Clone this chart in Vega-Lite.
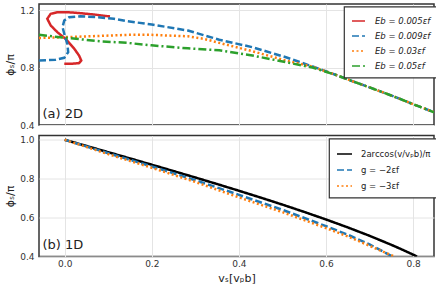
{
  "$schema": "https://vega.github.io/schema/vega-lite/v6.json",
  "padding": {"left": 3, "top": 3, "right": 3, "bottom": 5},
  "spacing": 10.5,
  "bounds": "flush",
  "config": {
    "font": "DejaVu Sans",
    "view": {"stroke": "#333", "strokeWidth": 1.5},
    "axis": {"labelFont": "DejaVu Sans", "labelFontSize": 9, "labelColor": "#333", "gridColor": "#e4e4e4", "gridWidth": 1, "ticks": false, "domain": false, "labelPadding": 5, "titleFont": "DejaVu Sans", "titleFontSize": 11, "titleFontWeight": "normal", "titleColor": "#222"},
    "legend": {"labelFont": "DejaVu Sans", "strokeWidth": 1.2}
  },
  "resolve": {"scale": {"color": "independent", "strokeDash": "independent"}},
  "vconcat": [
    {
      "width": 395,
      "height": 121,
      "layer": [
        {
          "data": {"values": [
            {"s": "Eb = 0.005εf", "i": 1, "v": 0.104, "p": 1.156},
            {"s": "Eb = 0.005εf", "i": 2, "v": 0.067, "p": 1.170},
            {"s": "Eb = 0.005εf", "i": 3, "v": 0.029, "p": 1.181},
            {"s": "Eb = 0.005εf", "i": 4, "v": 0.005, "p": 1.186},
            {"s": "Eb = 0.005εf", "i": 5, "v": -0.017, "p": 1.185},
            {"s": "Eb = 0.005εf", "i": 6, "v": -0.032, "p": 1.175},
            {"s": "Eb = 0.005εf", "i": 7, "v": -0.040, "p": 1.140},
            {"s": "Eb = 0.005εf", "i": 8, "v": -0.032, "p": 1.093},
            {"s": "Eb = 0.005εf", "i": 9, "v": -0.017, "p": 1.047},
            {"s": "Eb = 0.005εf", "i": 10, "v": 0.002, "p": 1.000},
            {"s": "Eb = 0.005εf", "i": 11, "v": 0.022, "p": 0.931},
            {"s": "Eb = 0.005εf", "i": 12, "v": 0.033, "p": 0.884},
            {"s": "Eb = 0.005εf", "i": 13, "v": 0.038, "p": 0.849},
            {"s": "Eb = 0.005εf", "i": 14, "v": 0.033, "p": 0.831},
            {"s": "Eb = 0.005εf", "i": 15, "v": 0.014, "p": 0.826},
            {"s": "Eb = 0.005εf", "i": 16, "v": -0.001, "p": 0.826},

            {"s": "Eb = 0.009εf", "i": 1, "v": -0.059, "p": 0.849},
            {"s": "Eb = 0.009εf", "i": 2, "v": -0.021, "p": 0.854},
            {"s": "Eb = 0.009εf", "i": 3, "v": -0.001, "p": 0.868},
            {"s": "Eb = 0.009εf", "i": 4, "v": 0.008, "p": 0.907},
            {"s": "Eb = 0.009εf", "i": 5, "v": 0.006, "p": 0.966},
            {"s": "Eb = 0.009εf", "i": 6, "v": 0.000, "p": 1.024},
            {"s": "Eb = 0.009εf", "i": 7, "v": -0.005, "p": 1.082},
            {"s": "Eb = 0.009εf", "i": 8, "v": -0.001, "p": 1.128},
            {"s": "Eb = 0.009εf", "i": 9, "v": 0.010, "p": 1.151},
            {"s": "Eb = 0.009εf", "i": 10, "v": 0.037, "p": 1.158},
            {"s": "Eb = 0.009εf", "i": 11, "v": 0.075, "p": 1.151},
            {"s": "Eb = 0.009εf", "i": 12, "v": 0.113, "p": 1.140},
            {"s": "Eb = 0.009εf", "i": 13, "v": 0.144, "p": 1.123},
            {"s": "Eb = 0.009εf", "i": 14, "v": 0.200, "p": 1.100},
            {"s": "Eb = 0.009εf", "i": 15, "v": 0.283, "p": 1.058},
            {"s": "Eb = 0.009εf", "i": 16, "v": 0.355, "p": 0.994},
            {"s": "Eb = 0.009εf", "i": 17, "v": 0.431, "p": 0.942},
            {"s": "Eb = 0.009εf", "i": 18, "v": 0.508, "p": 0.872},
            {"s": "Eb = 0.009εf", "i": 19, "v": 0.584, "p": 0.792},
            {"s": "Eb = 0.009εf", "i": 20, "v": 0.620, "p": 0.752},
            {"s": "Eb = 0.009εf", "i": 21, "v": 0.661, "p": 0.705},
            {"s": "Eb = 0.009εf", "i": 22, "v": 0.700, "p": 0.662},
            {"s": "Eb = 0.009εf", "i": 23, "v": 0.737, "p": 0.620},
            {"s": "Eb = 0.009εf", "i": 24, "v": 0.770, "p": 0.582},
            {"s": "Eb = 0.009εf", "i": 25, "v": 0.800, "p": 0.545},
            {"s": "Eb = 0.009εf", "i": 26, "v": 0.825, "p": 0.516},
            {"s": "Eb = 0.009εf", "i": 27, "v": 0.848, "p": 0.489},

            {"s": "Eb = 0.03εf", "i": 1, "v": -0.059, "p": 1.006},
            {"s": "Eb = 0.03εf", "i": 2, "v": 0.000, "p": 1.012},
            {"s": "Eb = 0.03εf", "i": 3, "v": 0.084, "p": 1.021},
            {"s": "Eb = 0.03εf", "i": 4, "v": 0.144, "p": 1.028},
            {"s": "Eb = 0.03εf", "i": 5, "v": 0.199, "p": 1.028},
            {"s": "Eb = 0.03εf", "i": 6, "v": 0.283, "p": 1.018},
            {"s": "Eb = 0.03εf", "i": 7, "v": 0.320, "p": 1.000},
            {"s": "Eb = 0.03εf", "i": 8, "v": 0.355, "p": 0.972},
            {"s": "Eb = 0.03εf", "i": 9, "v": 0.431, "p": 0.914},
            {"s": "Eb = 0.03εf", "i": 10, "v": 0.508, "p": 0.849},
            {"s": "Eb = 0.03εf", "i": 11, "v": 0.569, "p": 0.806},
            {"s": "Eb = 0.03εf", "i": 12, "v": 0.620, "p": 0.752},
            {"s": "Eb = 0.03εf", "i": 13, "v": 0.661, "p": 0.705},
            {"s": "Eb = 0.03εf", "i": 14, "v": 0.700, "p": 0.662},
            {"s": "Eb = 0.03εf", "i": 15, "v": 0.737, "p": 0.620},
            {"s": "Eb = 0.03εf", "i": 16, "v": 0.770, "p": 0.582},
            {"s": "Eb = 0.03εf", "i": 17, "v": 0.800, "p": 0.545},
            {"s": "Eb = 0.03εf", "i": 18, "v": 0.825, "p": 0.516},
            {"s": "Eb = 0.03εf", "i": 19, "v": 0.848, "p": 0.489},

            {"s": "Eb = 0.05εf", "i": 1, "v": -0.059, "p": 1.028},
            {"s": "Eb = 0.05εf", "i": 2, "v": 0.000, "p": 1.008},
            {"s": "Eb = 0.05εf", "i": 3, "v": 0.084, "p": 0.983},
            {"s": "Eb = 0.05εf", "i": 4, "v": 0.144, "p": 0.972},
            {"s": "Eb = 0.05εf", "i": 5, "v": 0.199, "p": 0.955},
            {"s": "Eb = 0.05εf", "i": 6, "v": 0.283, "p": 0.934},
            {"s": "Eb = 0.05εf", "i": 7, "v": 0.355, "p": 0.920},
            {"s": "Eb = 0.05εf", "i": 8, "v": 0.431, "p": 0.884},
            {"s": "Eb = 0.05εf", "i": 9, "v": 0.508, "p": 0.838},
            {"s": "Eb = 0.05εf", "i": 10, "v": 0.569, "p": 0.800},
            {"s": "Eb = 0.05εf", "i": 11, "v": 0.620, "p": 0.752},
            {"s": "Eb = 0.05εf", "i": 12, "v": 0.661, "p": 0.705},
            {"s": "Eb = 0.05εf", "i": 13, "v": 0.700, "p": 0.662},
            {"s": "Eb = 0.05εf", "i": 14, "v": 0.737, "p": 0.620},
            {"s": "Eb = 0.05εf", "i": 15, "v": 0.770, "p": 0.582},
            {"s": "Eb = 0.05εf", "i": 16, "v": 0.800, "p": 0.545},
            {"s": "Eb = 0.05εf", "i": 17, "v": 0.825, "p": 0.516},
            {"s": "Eb = 0.05εf", "i": 18, "v": 0.848, "p": 0.489}
          ]},
          "mark": {"type": "line", "strokeWidth": 2.5, "clip": true},
          "encoding": {
            "x": {"field": "v", "type": "quantitative", "scale": {"domain": [-0.059, 0.848], "nice": false, "zero": false}, "axis": {"title": null, "labels": false, "values": [0, 0.2, 0.4, 0.6, 0.8]}},
            "y": {"field": "p", "type": "quantitative", "scale": {"domain": [0.4, 1.243], "nice": false, "zero": false}, "axis": {"title": "ϕₛ/π", "values": [0.4, 0.6, 0.8, 1.0, 1.2], "format": ".1f", "titlePadding": 4}},
            "color": {"field": "s", "type": "nominal", "scale": {"domain": ["Eb = 0.005εf", "Eb = 0.009εf", "Eb = 0.03εf", "Eb = 0.05εf"], "range": ["#d62728", "#1f77b4", "#ff7f0e", "#2ca02c"]},
              "legend": {"title": null, "orient": "none", "legendX": 305, "legendY": 2.5, "symbolType": "stroke", "symbolSize": 169, "symbolStrokeWidth": 1.5, "labelFontSize": 8.5, "labelFontStyle": "italic", "labelColor": "#222", "padding": 7, "rowPadding": 3, "strokeColor": "#333", "fillColor": "white", "labelOffset": 9}},
            "strokeDash": {"field": "s", "type": "nominal", "scale": {"domain": ["Eb = 0.005εf", "Eb = 0.009εf", "Eb = 0.03εf", "Eb = 0.05εf"], "range": [[1, 0], [7, 3], [2, 2.5], [8, 3, 2, 3]]},
              "legend": {"title": null, "orient": "none", "legendX": 305, "legendY": 2.5, "symbolType": "stroke", "symbolSize": 169, "symbolStrokeWidth": 1.5, "labelFontSize": 8.5, "labelFontStyle": "italic", "labelColor": "#222", "padding": 7, "rowPadding": 3, "strokeColor": "#333", "fillColor": "white", "labelOffset": 9}},
            "order": {"field": "i", "type": "quantitative"}
          }
        },
        {
          "data": {"values": [{"t": "(a) 2D"}]},
          "mark": {"type": "text", "align": "left", "baseline": "middle", "fontSize": 13, "color": "#222"},
          "encoding": {"x": {"datum": -0.051}, "y": {"datum": 0.48}, "text": {"field": "t"}}
        }
      ]
    },
    {
      "width": 395,
      "height": 121,
      "layer": [
        {
          "data": {"values": [
            {"s": "2arccos(v/vₚb)/π", "v": 0.0, "p": 1.0},
            {"s": "2arccos(v/vₚb)/π", "v": 0.05, "p": 0.9682},
            {"s": "2arccos(v/vₚb)/π", "v": 0.1, "p": 0.9362},
            {"s": "2arccos(v/vₚb)/π", "v": 0.15, "p": 0.9042},
            {"s": "2arccos(v/vₚb)/π", "v": 0.2, "p": 0.8718},
            {"s": "2arccos(v/vₚb)/π", "v": 0.25, "p": 0.8391},
            {"s": "2arccos(v/vₚb)/π", "v": 0.3, "p": 0.806},
            {"s": "2arccos(v/vₚb)/π", "v": 0.35, "p": 0.7724},
            {"s": "2arccos(v/vₚb)/π", "v": 0.4, "p": 0.738},
            {"s": "2arccos(v/vₚb)/π", "v": 0.45, "p": 0.7028},
            {"s": "2arccos(v/vₚb)/π", "v": 0.5, "p": 0.6667},
            {"s": "2arccos(v/vₚb)/π", "v": 0.55, "p": 0.6292},
            {"s": "2arccos(v/vₚb)/π", "v": 0.6, "p": 0.5903},
            {"s": "2arccos(v/vₚb)/π", "v": 0.65, "p": 0.5495},
            {"s": "2arccos(v/vₚb)/π", "v": 0.7, "p": 0.5064},
            {"s": "2arccos(v/vₚb)/π", "v": 0.75, "p": 0.4601},
            {"s": "2arccos(v/vₚb)/π", "v": 0.78, "p": 0.4304},
            {"s": "2arccos(v/vₚb)/π", "v": 0.809, "p": 0.4},

            {"s": "g = −2εf", "v": 0.0, "p": 1.0},
            {"s": "g = −2εf", "v": 0.1, "p": 0.931},
            {"s": "g = −2εf", "v": 0.2, "p": 0.863},
            {"s": "g = −2εf", "v": 0.3, "p": 0.792},
            {"s": "g = −2εf", "v": 0.4, "p": 0.717},
            {"s": "g = −2εf", "v": 0.5, "p": 0.640},
            {"s": "g = −2εf", "v": 0.6, "p": 0.556},
            {"s": "g = −2εf", "v": 0.65, "p": 0.512},
            {"s": "g = −2εf", "v": 0.7, "p": 0.462},
            {"s": "g = −2εf", "v": 0.753, "p": 0.4},

            {"s": "g = −3εf", "v": 0.0, "p": 1.0},
            {"s": "g = −3εf", "v": 0.1, "p": 0.926},
            {"s": "g = −3εf", "v": 0.2, "p": 0.856},
            {"s": "g = −3εf", "v": 0.3, "p": 0.783},
            {"s": "g = −3εf", "v": 0.4, "p": 0.704},
            {"s": "g = −3εf", "v": 0.5, "p": 0.628},
            {"s": "g = −3εf", "v": 0.6, "p": 0.546},
            {"s": "g = −3εf", "v": 0.65, "p": 0.503},
            {"s": "g = −3εf", "v": 0.7, "p": 0.455},
            {"s": "g = −3εf", "v": 0.757, "p": 0.4}
          ]},
          "mark": {"type": "line", "strokeWidth": 2.5, "clip": true},
          "encoding": {
            "x": {"field": "v", "type": "quantitative", "scale": {"domain": [-0.059, 0.848], "nice": false, "zero": false}, "axis": {"title": "vₛ[vₚb]", "values": [0, 0.2, 0.4, 0.6, 0.8], "format": ".1f", "labelPadding": 3, "titlePadding": 4}},
            "y": {"field": "p", "type": "quantitative", "scale": {"domain": [0.4, 1.022], "nice": false, "zero": false}, "axis": {"title": "ϕₛ/π", "values": [0.4, 0.6, 0.8, 1.0], "format": ".1f", "titlePadding": 4}},
            "color": {"field": "s", "type": "nominal", "scale": {"domain": ["2arccos(v/vₚb)/π", "g = −2εf", "g = −3εf"], "range": ["#000000", "#1f77b4", "#ff7f0e"]},
              "legend": {"title": null, "orient": "none", "legendX": 290, "legendY": 3, "symbolType": "stroke", "symbolSize": 225, "symbolStrokeWidth": 1.5, "labelFontSize": 8.5, "labelColor": "#222", "padding": 7, "rowPadding": 3, "strokeColor": "#333", "fillColor": "white", "labelOffset": 8}},
            "strokeDash": {"field": "s", "type": "nominal", "scale": {"domain": ["2arccos(v/vₚb)/π", "g = −2εf", "g = −3εf"], "range": [[1, 0], [7, 3], [2, 2.5]]},
              "legend": {"title": null, "orient": "none", "legendX": 290, "legendY": 3, "symbolType": "stroke", "symbolSize": 225, "symbolStrokeWidth": 1.5, "labelFontSize": 8.5, "labelColor": "#222", "padding": 7, "rowPadding": 3, "strokeColor": "#333", "fillColor": "white", "labelOffset": 8}}
          }
        },
        {
          "data": {"values": [{"t": "(b) 1D"}]},
          "mark": {"type": "text", "align": "left", "baseline": "middle", "fontSize": 13, "color": "#222"},
          "encoding": {"x": {"datum": -0.051}, "y": {"datum": 0.46}, "text": {"field": "t"}}
        }
      ]
    }
  ]
}
